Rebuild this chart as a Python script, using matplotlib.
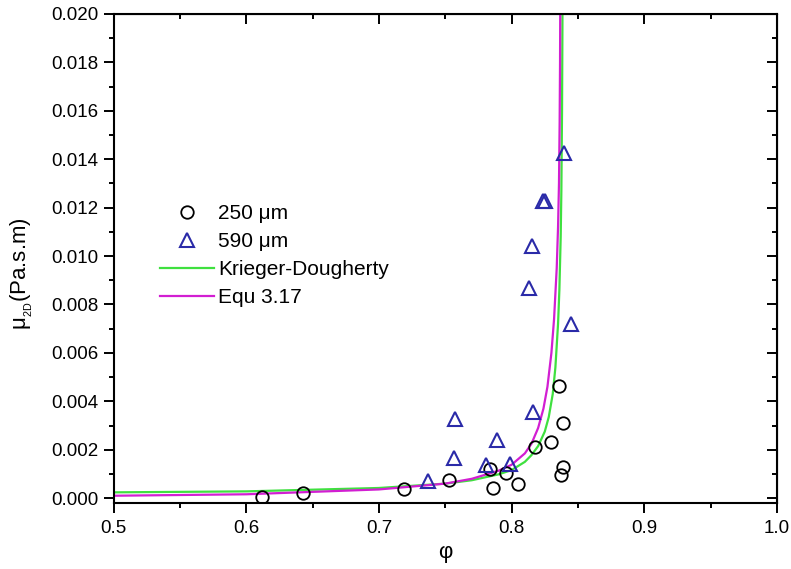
import matplotlib
matplotlib.use('agg')
import matplotlib.pyplot as plt
from matplotlib.ticker import MultipleLocator, FormatStrFormatter

plt.rcParams['font.family'] = ['Liberation Sans', 'DejaVu Sans']
plt.rcParams['mathtext.fontset'] = 'custom'
plt.rcParams['mathtext.rm'] = 'Liberation Sans'

# measured points
phi_250 = [0.612, 0.643, 0.719, 0.753, 0.784, 0.786, 0.796, 0.805, 0.818, 0.8295, 0.836, 0.839, 0.839, 0.837]
mu_250 = [0.00004, 0.0002, 0.00037, 0.00074, 0.00119, 0.0004, 0.00102, 0.0006, 0.00212, 0.00231, 0.00463, 0.00311, 0.00127, 0.00094]

phi_590 = [0.737, 0.7576, 0.7566, 0.781, 0.789, 0.799, 0.816, 0.8395, 0.8235, 0.825, 0.8154, 0.813, 0.8445]
mu_590 = [0.0007, 0.00326, 0.00167, 0.00136, 0.0024, 0.0014, 0.00354, 0.01424, 0.01227, 0.01227, 0.01041, 0.00867, 0.00719]

# model curves
phi_kd = [0.50, 0.60, 0.70, 0.75, 0.77, 0.79, 0.80, 0.81, 0.815, 0.82, 0.825, 0.828, 0.831, 0.833,
          0.835, 0.836, 0.837, 0.8375, 0.838, 0.8383, 0.8384]
mu_kd = [0.00024, 0.00028, 0.00042, 0.00060, 0.00074, 0.00098, 0.00116, 0.00150, 0.00178, 0.00215, 0.00275,
         0.00335, 0.00430, 0.00540, 0.00720, 0.00860, 0.01080, 0.0127, 0.0160, 0.0195, 0.0215]

phi_eq = [0.50, 0.60, 0.70, 0.75, 0.77, 0.79, 0.80, 0.81, 0.815, 0.82, 0.824, 0.827, 0.830, 0.832,
          0.834, 0.835, 0.8357, 0.8362, 0.8365, 0.8367]
mu_eq = [0.00010, 0.00016, 0.00036, 0.00060, 0.00080, 0.00113, 0.00138, 0.00185, 0.00225, 0.00290, 0.00370,
         0.00460, 0.00600, 0.00740, 0.00950, 0.01120, 0.01300, 0.0155, 0.0180, 0.0210]

fig = plt.figure(figsize=(7.91, 5.69), dpi=100)
ax = fig.add_axes([0.1435, 0.116, 0.8388, 0.8594])

ax.plot(phi_250, mu_250, 'o', mfc='none', mec='black', ms=9, mew=1.3, label='250 \u03bcm', zorder=3)
ax.plot(phi_590, mu_590, '^', mfc='none', mec='#2a2aa8', ms=10, mew=1.5, label='590 \u03bcm', zorder=3)
ax.plot(phi_kd, mu_kd, '-', color='#3fe03f', lw=1.6, label='Krieger-Dougherty')
ax.plot(phi_eq, mu_eq, '-', color='#d21ed2', lw=1.6, label='Equ 3.17')

ax.set_xlim(0.5, 1.0)
ax.set_ylim(-0.0002, 0.020)
ax.xaxis.set_major_locator(MultipleLocator(0.1))
ax.xaxis.set_minor_locator(MultipleLocator(0.05))
ax.yaxis.set_major_locator(MultipleLocator(0.002))
ax.yaxis.set_minor_locator(MultipleLocator(0.001))
ax.yaxis.set_major_formatter(FormatStrFormatter('%.3f'))
ax.xaxis.set_major_formatter(FormatStrFormatter('%.1f'))
ax.tick_params(which='major', direction='out', length=7, width=1.4, labelsize=13.5)
ax.tick_params(which='minor', direction='out', length=3.5, width=1.4)
ax.tick_params(axis='x', which='major', pad=5)
ax.tick_params(axis='y', which='major', pad=4)
for s in ax.spines.values():
    s.set_linewidth(1.5)

top = ax.secondary_xaxis('top')
top.xaxis.set_major_locator(MultipleLocator(0.1))
top.xaxis.set_minor_locator(MultipleLocator(0.05))
top.tick_params(which='both', direction='in', labeltop=False, width=1.4)
top.tick_params(which='major', length=7)
top.tick_params(which='minor', length=3.5)
right = ax.secondary_yaxis('right')
right.yaxis.set_major_locator(MultipleLocator(0.002))
right.yaxis.set_minor_locator(MultipleLocator(0.001))
right.tick_params(which='both', direction='in', labelright=False, width=1.4)
right.tick_params(which='major', length=7)
right.tick_params(which='minor', length=3.5)

ax.set_xlabel('\u03c6', fontsize=16, labelpad=4)
ax.set_ylabel('\u03bc$_{_{\\mathregular{2D}}}$(Pa.s.m)', fontsize=16)
ax.yaxis.set_label_coords(-0.118, 0.47)

ax.legend(loc='upper left', bbox_to_anchor=(0.048, 0.641), frameon=False, fontsize=15,
          handlelength=2.6, labelspacing=0.43, handletextpad=0.2, borderpad=0.2)

plt.savefig('out.png', dpi=100)
